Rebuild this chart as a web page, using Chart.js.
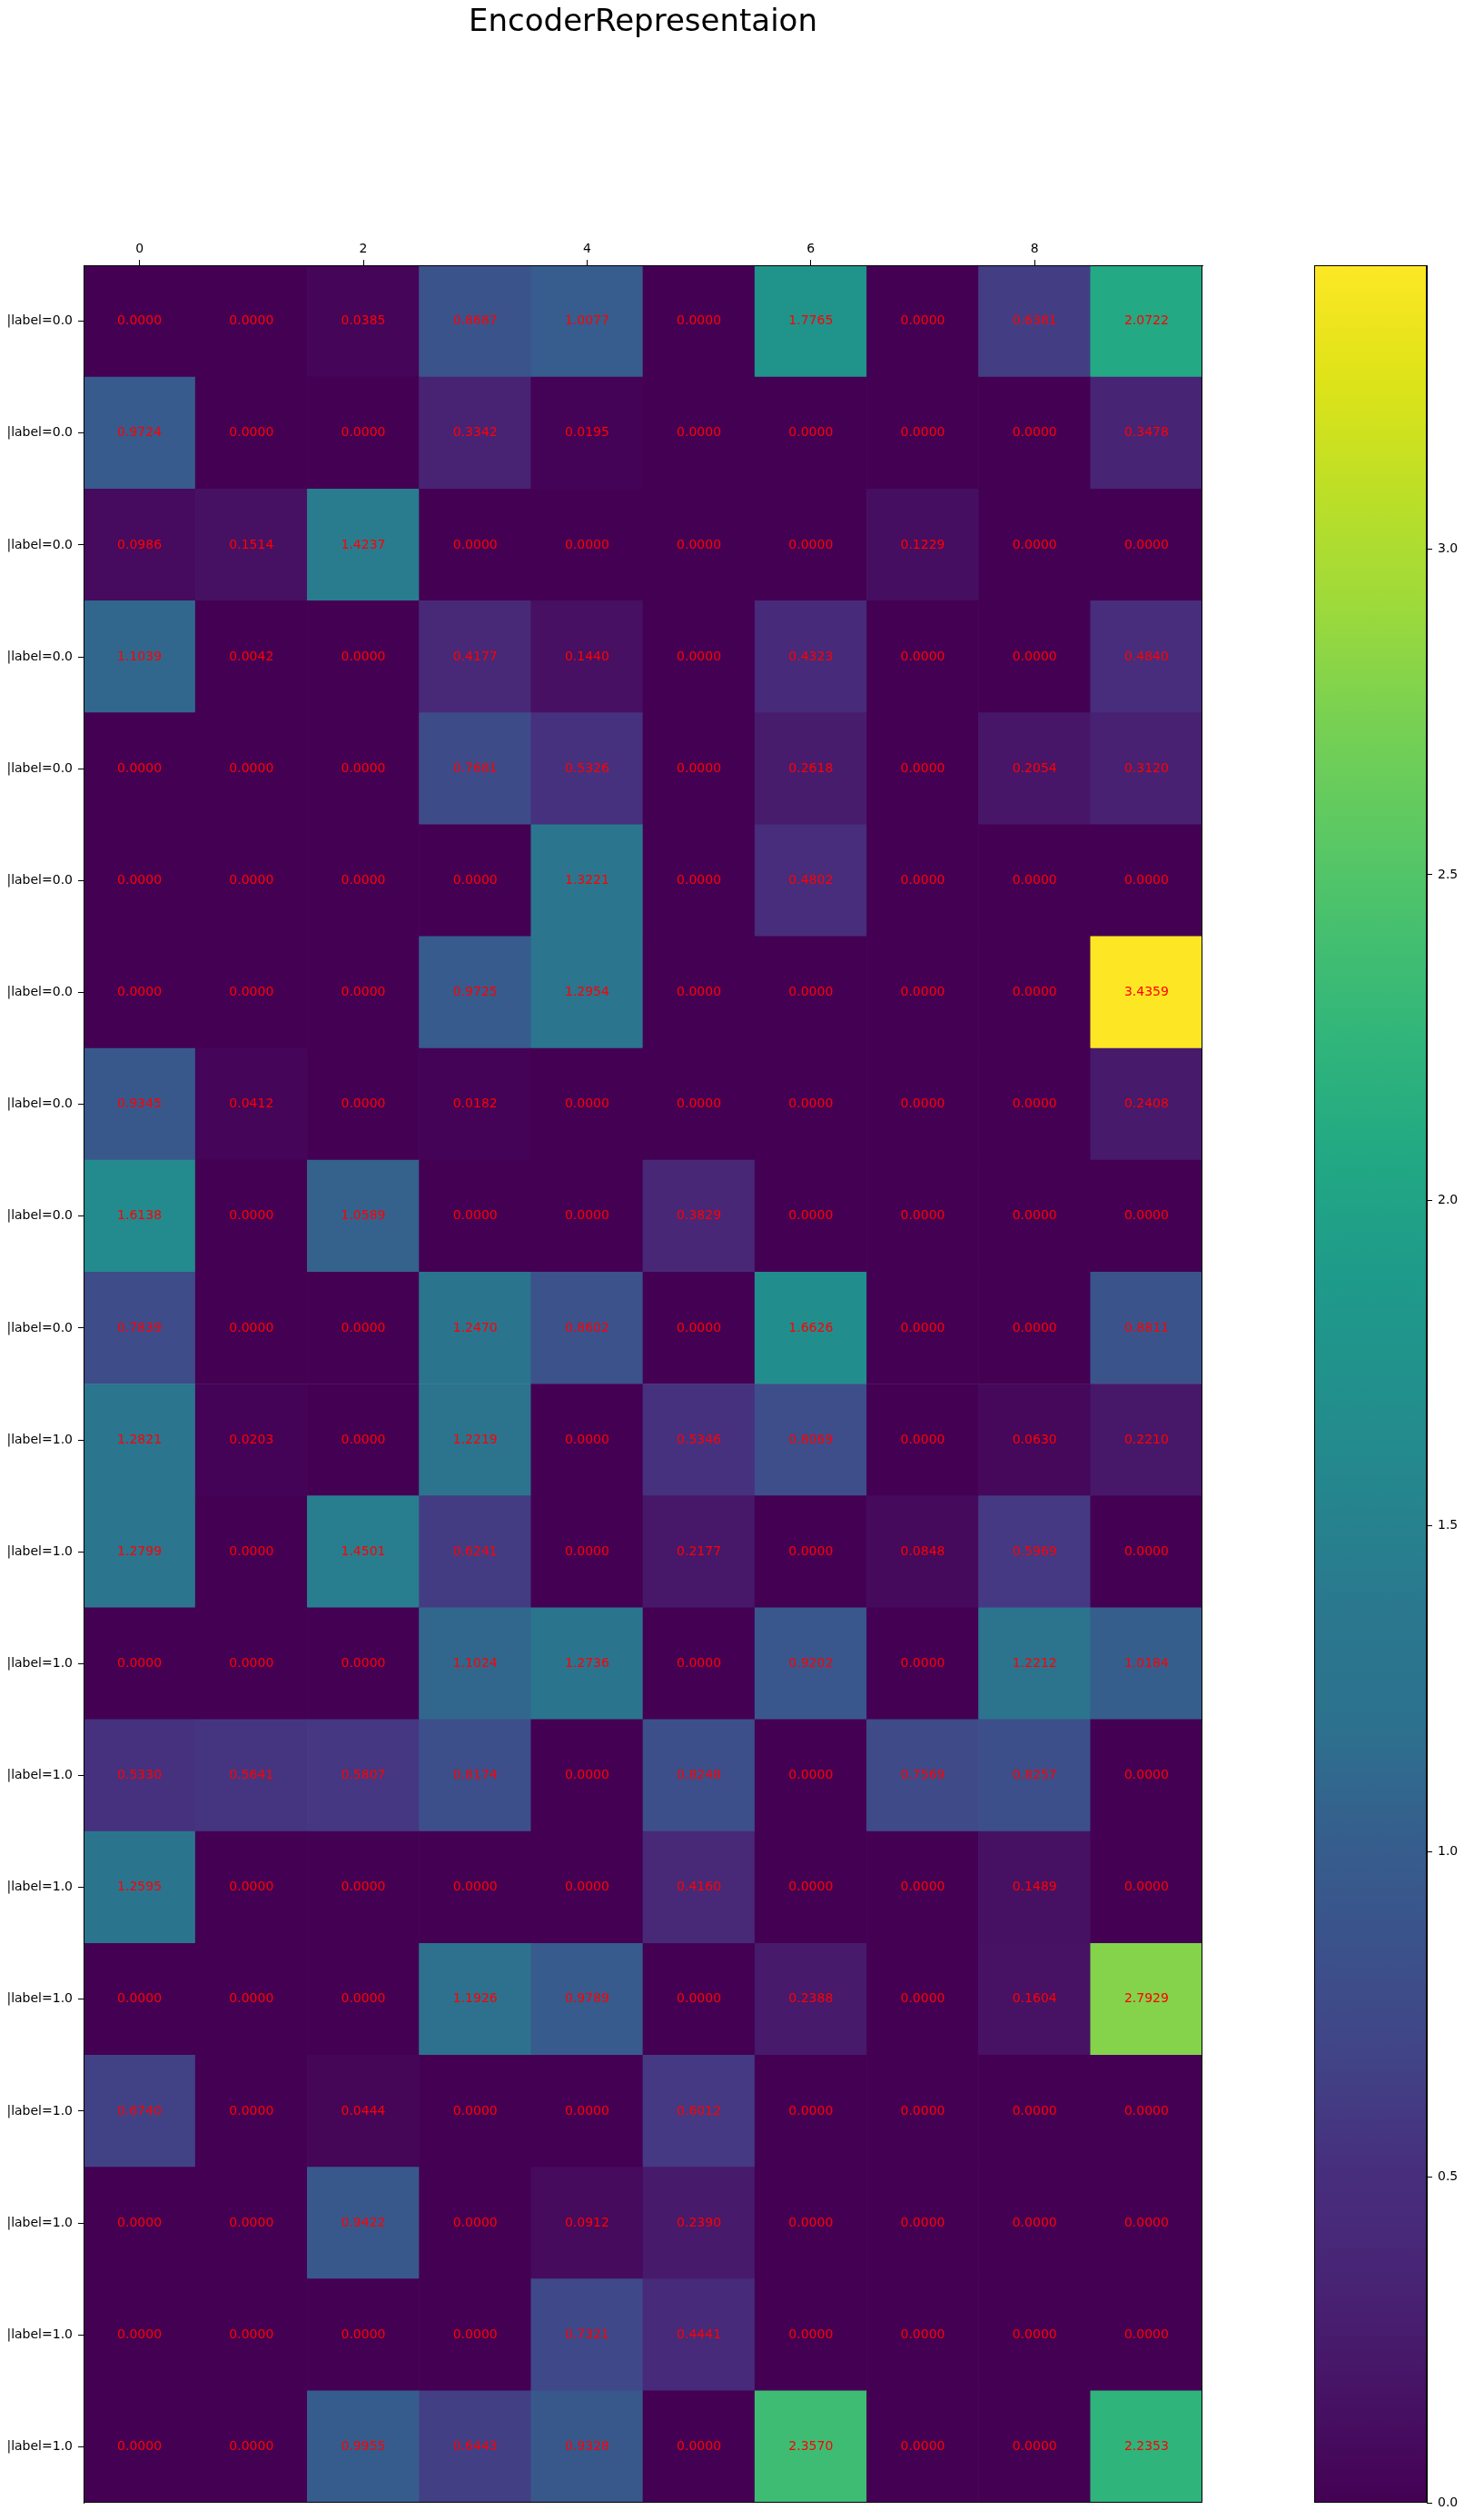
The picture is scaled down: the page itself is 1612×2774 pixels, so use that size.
<!DOCTYPE html>
<html lang="en">
<head>
    <meta charset="UTF-8">
    <title>EncoderRepresentaion</title>
    <script src="https://cdn.jsdelivr.net/npm/chart.js"></script>
    <style>
        body {
            margin: 0;
            background: #ffffff;
            font-family: "DejaVu Sans", sans-serif;
        }
        #wrap {
            position: relative;
            width: 1612px;
            height: 2774px;
        }
        #heatmap {
            position: absolute;
            left: 0;
            top: 0;
        }
        #colorbar {
            position: absolute;
            left: 1416px;
            top: 0;
        }
    </style>
</head>
<body>
    <div id="wrap">
        <canvas id="heatmap" width="1416" height="2774"></canvas>
        <canvas id="colorbar" width="196" height="2774"></canvas>
    </div>

    <script>
        // rows with |label=0.0
        const rowsLabel0 = [
            [0.0000, 0.0000, 0.0385, 0.8687, 1.0077, 0.0000, 1.7765, 0.0000, 0.6381, 2.0722],
            [0.9724, 0.0000, 0.0000, 0.3342, 0.0195, 0.0000, 0.0000, 0.0000, 0.0000, 0.3478],
            [0.0986, 0.1514, 1.4237, 0.0000, 0.0000, 0.0000, 0.0000, 0.1229, 0.0000, 0.0000],
            [1.1039, 0.0042, 0.0000, 0.4177, 0.1440, 0.0000, 0.4323, 0.0000, 0.0000, 0.4840],
            [0.0000, 0.0000, 0.0000, 0.7681, 0.5326, 0.0000, 0.2618, 0.0000, 0.2054, 0.3120],
            [0.0000, 0.0000, 0.0000, 0.0000, 1.3221, 0.0000, 0.4802, 0.0000, 0.0000, 0.0000],
            [0.0000, 0.0000, 0.0000, 0.9725, 1.2954, 0.0000, 0.0000, 0.0000, 0.0000, 3.4359],
            [0.9345, 0.0412, 0.0000, 0.0182, 0.0000, 0.0000, 0.0000, 0.0000, 0.0000, 0.2408],
            [1.6138, 0.0000, 1.0589, 0.0000, 0.0000, 0.3829, 0.0000, 0.0000, 0.0000, 0.0000],
            [0.7839, 0.0000, 0.0000, 1.2470, 0.8602, 0.0000, 1.6626, 0.0000, 0.0000, 0.8811]
        ];
        // rows with |label=1.0
        const rowsLabel1 = [
            [1.2821, 0.0203, 0.0000, 1.2219, 0.0000, 0.5346, 0.8069, 0.0000, 0.0630, 0.2210],
            [1.2799, 0.0000, 1.4501, 0.6241, 0.0000, 0.2177, 0.0000, 0.0848, 0.5969, 0.0000],
            [0.0000, 0.0000, 0.0000, 1.1024, 1.2736, 0.0000, 0.9202, 0.0000, 1.2212, 1.0184],
            [0.5330, 0.5641, 0.5807, 0.8174, 0.0000, 0.8248, 0.0000, 0.7569, 0.8257, 0.0000],
            [1.2595, 0.0000, 0.0000, 0.0000, 0.0000, 0.4160, 0.0000, 0.0000, 0.1489, 0.0000],
            [0.0000, 0.0000, 0.0000, 1.1926, 0.9789, 0.0000, 0.2388, 0.0000, 0.1604, 2.7929],
            [0.6740, 0.0000, 0.0444, 0.0000, 0.0000, 0.6012, 0.0000, 0.0000, 0.0000, 0.0000],
            [0.0000, 0.0000, 0.9422, 0.0000, 0.0912, 0.2390, 0.0000, 0.0000, 0.0000, 0.0000],
            [0.0000, 0.0000, 0.0000, 0.0000, 0.7321, 0.4441, 0.0000, 0.0000, 0.0000, 0.0000],
            [0.0000, 0.0000, 0.9955, 0.6443, 0.9328, 0.0000, 2.3570, 0.0000, 0.0000, 2.2353]
        ];
        const rowLabels = [
            '|label=0.0', '|label=0.0', '|label=0.0', '|label=0.0', '|label=0.0',
            '|label=0.0', '|label=0.0', '|label=0.0', '|label=0.0', '|label=0.0',
            '|label=1.0', '|label=1.0', '|label=1.0', '|label=1.0', '|label=1.0',
            '|label=1.0', '|label=1.0', '|label=1.0', '|label=1.0', '|label=1.0'
        ];
        const colTicks = [0, 2, 4, 6, 8];
        const colorbarTicks = [0.0, 0.5, 1.0, 1.5, 2.0, 2.5, 3.0];

        // viridis, sampled every 0.05
        const viridis = [
            '#440154', '#471365', '#482475', '#472f7d', '#414487', '#3b528b', '#355f8d',
            '#2c728e', '#2a788e', '#25858e', '#21918c', '#1e9b8a', '#22a884', '#2fb47c',
            '#44bf70', '#5ec962', '#7ad151', '#9fda3a', '#bddf26', '#dfe318', '#fde725'
        ];

        const FONT = '"DejaVu Sans", sans-serif';
        const allRows = rowsLabel0.concat(rowsLabel1);
        const vmax = Math.max(...allRows.flat());

        function hexToRgb(h) {
            return [parseInt(h.slice(1, 3), 16), parseInt(h.slice(3, 5), 16), parseInt(h.slice(5, 7), 16)];
        }

        function colorFor(v) {
            let t = Math.min(Math.max(v / vmax, 0), 1) * (viridis.length - 1);
            const i = Math.min(Math.floor(t), viridis.length - 2);
            const f = t - i;
            const a = hexToRgb(viridis[i]);
            const b = hexToRgb(viridis[i + 1]);
            const c = a.map((x, k) => Math.round(x + (b[k] - x) * f));
            return `rgb(${c[0]},${c[1]},${c[2]})`;
        }

        const cells = [];
        allRows.forEach((row, r) => {
            row.forEach((v, c) => {
                cells.push({ x: c, y: [r - 0.5, r + 0.5], v: v });
            });
        });

        // black frame round the plot area
        const framePlugin = {
            id: 'frame',
            afterDraw(chart) {
                const a = chart.chartArea;
                const ctx = chart.ctx;
                ctx.save();
                ctx.strokeStyle = '#000';
                ctx.lineWidth = 1;
                ctx.strokeRect(Math.round(a.left) + 0.5, Math.round(a.top) + 0.5,
                    Math.round(a.right - a.left) - 1, Math.round(a.bottom - a.top) - 1);
                ctx.restore();
            }
        };

        // red value text in each cell
        const cellTextPlugin = {
            id: 'cellText',
            afterDatasetsDraw(chart) {
                const meta = chart.getDatasetMeta(0);
                const ctx = chart.ctx;
                ctx.save();
                ctx.fillStyle = '#ff0000';
                ctx.font = `14px ${FONT}`;
                ctx.textAlign = 'center';
                ctx.textBaseline = 'middle';
                meta.data.forEach((bar, i) => {
                    const p = bar.getProps(['x', 'y', 'base'], true);
                    ctx.fillText(cells[i].v.toFixed(4), p.x, (p.y + p.base) / 2);
                });
                ctx.restore();
            }
        };

        Chart.defaults.font.family = FONT;
        Chart.defaults.color = '#000';

        new Chart(document.getElementById('heatmap'), {
            type: 'bar',
            data: {
                datasets: [{
                    data: cells,
                    backgroundColor: (ctx) => ctx.raw ? colorFor(ctx.raw.v) : viridis[0],
                    borderWidth: 0,
                    barPercentage: 1,
                    categoryPercentage: 1
                }]
            },
            options: {
                responsive: false,
                animation: false,
                layout: { padding: { left: 0, right: 0, top: 0, bottom: 19 } },
                plugins: {
                    legend: { display: false },
                    tooltip: { enabled: false },
                    title: {
                        display: true,
                        text: 'EncoderRepresentaion',
                        color: '#000',
                        font: { size: 34, weight: 'normal', family: FONT },
                        padding: { top: 5, bottom: 0 }
                    }
                },
                scales: {
                    x: {
                        type: 'linear',
                        position: 'top',
                        offset: false,
                        min: -0.5,
                        max: 9.5,
                        afterBuildTicks: (s) => { s.ticks = colTicks.map(v => ({ value: v })); },
                        afterFit: (s) => { s.height = 292 - 45.8; },
                        grid: { drawOnChartArea: false, offset: false, tickLength: 6, color: '#000' },
                        border: { color: '#000' },
                        ticks: { font: { size: 14 }, color: '#000', padding: 3, maxRotation: 0, autoSkip: false }
                    },
                    y: {
                        type: 'linear',
                        reverse: true,
                        min: -0.5,
                        max: 19.5,
                        afterBuildTicks: (s) => { s.ticks = rowLabels.map((_, i) => ({ value: i })); },
                        afterFit: (s) => { s.width = 92; },
                        grid: { drawOnChartArea: false, tickLength: 6, color: '#000' },
                        border: { color: '#000' },
                        ticks: {
                            font: { size: 14 },
                            color: '#000',
                            padding: 6,
                            autoSkip: false,
                            callback: (v) => rowLabels[v]
                        }
                    },
                    // empty right-hand space so the title centres over the plot
                    yRight: {
                        type: 'linear',
                        position: 'right',
                        min: 0,
                        max: 1,
                        afterFit: (s) => { s.width = 92; },
                        grid: { display: false },
                        border: { display: false },
                        ticks: { display: false }
                    }
                }
            },
            plugins: [cellTextPlugin, framePlugin]
        });

        new Chart(document.getElementById('colorbar'), {
            type: 'bar',
            data: {
                labels: ['scale'],
                datasets: [{
                    data: [[0, vmax]],
                    backgroundColor: (ctx) => {
                        const area = ctx.chart.chartArea;
                        if (!area) return viridis[0];
                        const g = ctx.chart.ctx.createLinearGradient(0, area.bottom, 0, area.top);
                        viridis.forEach((c, i) => g.addColorStop(i / (viridis.length - 1), c));
                        return g;
                    },
                    borderWidth: 0,
                    barPercentage: 1,
                    categoryPercentage: 1
                }]
            },
            options: {
                responsive: false,
                animation: false,
                layout: { padding: { left: 31, right: 0, top: 292, bottom: 19 } },
                plugins: {
                    legend: { display: false },
                    tooltip: { enabled: false }
                },
                scales: {
                    x: { display: false },
                    y: {
                        position: 'right',
                        min: 0,
                        max: vmax,
                        afterBuildTicks: (s) => { s.ticks = colorbarTicks.map(v => ({ value: v })); },
                        afterFit: (s) => { s.width = 41; },
                        grid: { drawOnChartArea: false, tickLength: 6, color: '#000' },
                        border: { color: '#000' },
                        ticks: {
                            font: { size: 14 },
                            color: '#000',
                            padding: 6,
                            callback: (v) => Number(v).toFixed(1)
                        }
                    }
                }
            },
            plugins: [framePlugin]
        });
    </script>
</body>
</html>
